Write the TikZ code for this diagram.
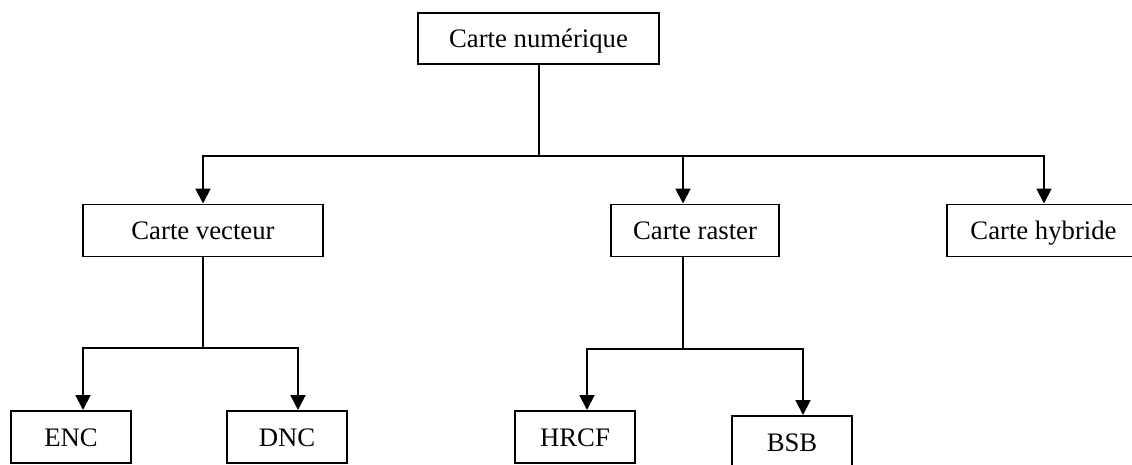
\documentclass[tikz,border=0pt]{standalone}
\usepackage{fontspec}
\setmainfont{Liberation Serif}
\usetikzlibrary{arrows.meta}
\tikzset{
  carte/.style={draw, line width=1.4pt, inner sep=0pt, minimum height=1.3cm,
    text height=0.45cm, text depth=0cm, font=\fontsize{19}{22}\selectfont},
  fleche/.style={-{Triangle[width=0.37cm,length=0.37cm]}, line width=1.4pt}
}
\begin{document}
\begin{tikzpicture}[x=0.025cm, y=-0.025cm]
  \useasboundingbox (0,0) rectangle (1132,465);
  \clip (0,0) rectangle (1132,465);
  \draw
    (538.5,38.5) node[carte, minimum width=6.025cm, minimum height=1.275cm] (num){Carte numérique}
    (203,230.5) node[carte, minimum width=6cm] (vec){Carte vecteur}
    (695,230.5) node[carte, minimum width=4.2cm] (ras){Carte raster}
    (1043.5,230.5) node[carte, minimum width=4.825cm] (hyb){Carte hybride}
    (71,437) node[carte, minimum width=3cm] (enc){ENC}
    (287,437) node[carte, minimum width=3cm] (dnc){DNC}
    (575,437) node[carte, minimum width=3cm] (hrcf){HRCF}
    (792,442) node[carte, minimum width=3cm] (bsb){BSB};
  \coordinate (b0) at (539,156);
  \coordinate (v0) at (203,156);
  \coordinate (r0) at (683,156);
  \coordinate (h0) at (1044,156);
  \coordinate (v1) at (203,348);
  \coordinate (e1) at (83,348);
  \coordinate (d1) at (298,348);
  \coordinate (r1) at (683,349);
  \coordinate (hr1) at (587,349);
  \coordinate (bs1) at (803,349);
  \begin{scope}[line width=1.4pt]
    \draw (b0 |- num.south) -- (b0);
    \draw[fleche] (b0) -| (v0 |- vec.north);
    \draw[fleche] (b0) -| (r0 |- ras.north);
    \draw[fleche] (b0) -| (h0 |- hyb.north);
    \draw (vec) -- (v1);
    \draw[fleche] (v1) -| (e1 |- enc.north);
    \draw[fleche] (v1) -| (d1 |- dnc.north);
    \draw (r1 |- ras.south) -- (r1);
    \draw[fleche] (r1) -| (hr1 |- hrcf.north);
    \draw[fleche] (r1) -| (bs1 |- bsb.north);
  \end{scope}
\end{tikzpicture}
\end{document}
